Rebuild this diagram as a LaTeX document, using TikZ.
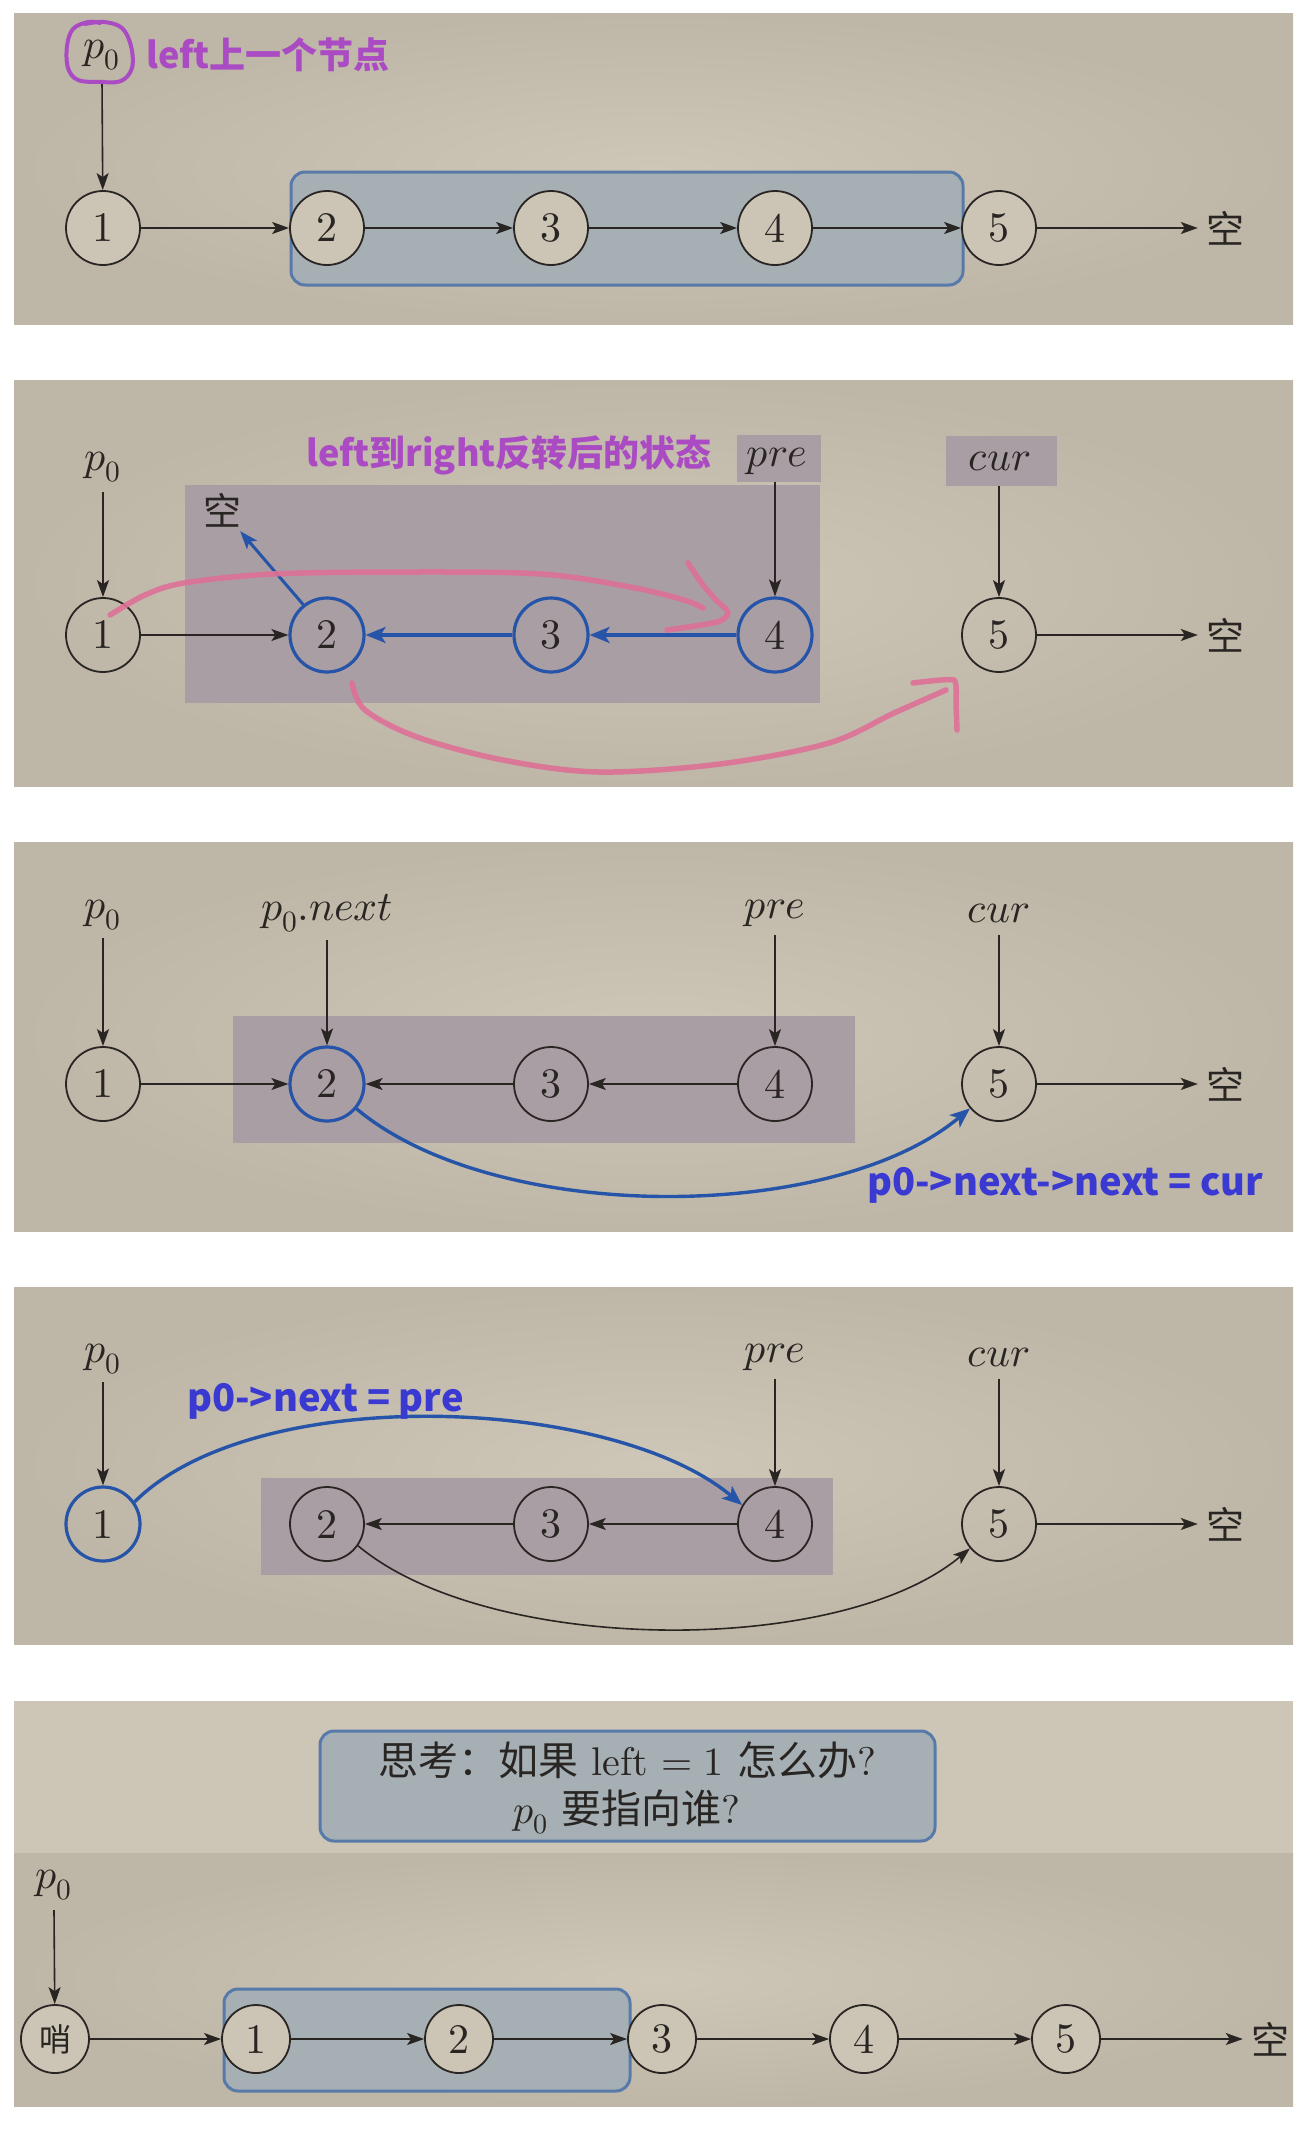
\documentclass[tikz,border=0pt]{standalone}
\usepackage{fontspec}
\usepackage{unicode-math}
\setmainfont{lmroman10-regular.otf}
\setmathfont{Latin Modern Math}
\newfontfamily\cjk{Noto Sans CJK SC}
\usetikzlibrary{arrows.meta}
\definecolor{bgA}{RGB}{206,199,183}
\definecolor{bgB}{RGB}{190,183,168}
\definecolor{bgTop}{RGB}{205,197,181}
\definecolor{ink}{RGB}{40,37,34}
\definecolor{nodefill}{RGB}{204,197,182}
\definecolor{boxfill}{RGB}{166,175,180}
\definecolor{boxedge}{RGB}{88,122,170}
\definecolor{shadeP}{RGB}{169,158,164}
\definecolor{blu}{RGB}{38,84,168}
\definecolor{txtblue}{RGB}{58,58,210}
\definecolor{purp}{RGB}{170,75,195}
\definecolor{pinkc}{RGB}{222,112,150}
\begin{document}
\begin{tikzpicture}[x=1pt,y=1pt,
  nd/.style={circle, draw=ink, line width=1.8pt, minimum size=74pt, inner sep=0pt, text=ink, font=\fontsize{42}{42}\selectfont},
  ndf/.style={nd, fill=nodefill},
  nds/.style={ndf, minimum size=68pt},
  ndb/.style={nd, draw=blu, line width=3.2pt},
  arr/.style={draw=ink, line width=1.6pt, -{Stealth[length=17pt,width=12pt,inset=4pt]}},
  barr/.style={draw=blu, line width=3.4pt, -{Stealth[length=20pt,width=16pt,inset=5pt]}},
  lbl/.style={inner sep=0pt, text=ink, font=\fontsize{42}{42}\selectfont},
  kong/.style={inner sep=8pt, text=ink, font=\cjk\fontsize{38}{38}\selectfont},
  purptxt/.style={inner sep=0pt, text=purp, font=\cjk\bfseries\fontsize{36}{36}\selectfont},
  bluetxt/.style={inner sep=0pt, text=txtblue, font=\cjk\bfseries\fontsize{38}{38}\selectfont},
  bluebox/.style={draw=boxedge, fill=boxfill, line width=3pt, rounded corners=14pt},
  hand/.style={draw=pinkc, line width=5.5pt, line cap=round, line join=round, opacity=0.9},
]
\useasboundingbox (0,0) rectangle (1313,-2130);
\fill[white] (0,0) rectangle (1313,-2130);

% ================= Panel 1 =================
\shade[inner color=bgA, outer color=bgB] (14,-14) rectangle (1293,-324);
\draw[bluebox] (291,-172) rectangle (963,-285);
\node[ndf] (a1) at (103,-228) {1};
\node[ndf] (a2) at (327,-228) {2};
\node[ndf] (a3) at (551,-228) {3};
\node[ndf] (a4) at (775,-228) {4};
\node[ndf] (a5) at (999,-228) {5};
\node[kong] (ak) at (1225,-228) {空};
\node[lbl] (ap) at (102,-55) {$p_0$};
\node[purptxt, anchor=west] (at) at (146,-55) {left上一个节点};
\draw[arr] ([yshift=-10pt]ap.south) -- (a1);
\draw[arr] (a1) -- (a2);
\draw[arr] (a2) -- (a3);
\draw[arr] (a3) -- (a4);
\draw[arr] (a4) -- (a5);
\draw[arr] (a5) -- (ak);
\draw[purp, line width=4pt, line cap=round, line join=round]
  plot[smooth, tension=0.6] coordinates {(85,-24) (104,-22) (122,-28) (131,-46) (132,-68) (121,-81) (100,-82) (78,-80) (68,-68) (67,-46) (73,-29) (88,-22) (100,-23)};

% ================= Panel 2 =================
\shade[inner color=bgA, outer color=bgB] (14,-380) rectangle (1293,-786);
\fill[shadeP] (185,-485) rectangle (820,-703);
\node[fill=shadeP, minimum width=84pt, minimum height=47pt, inner sep=0pt] (pbox) at (779,-458) {};
\node[fill=shadeP, minimum width=111pt, minimum height=50pt, inner sep=0pt] (cbox) at (1001,-461) {};
\node[lbl] (bpre) at (777,-461) {$pre$};
\node[lbl] (bcur) at (1000,-461) {$cur$};
\node[lbl] (bp) at (103,-467) {$p_0$};
\node[purptxt] (bt) at (509,-455) {left到right反转后的状态};
\node[nd] (b1) at (103,-635) {1};
\node[ndb] (b2) at (327,-635) {2};
\node[ndb] (b3) at (551,-635) {3};
\node[ndb] (b4) at (775,-635) {4};
\node[nd] (b5) at (999,-635) {5};
\node[kong] (bk) at (1225,-635) {空};
\node[kong, inner sep=4pt] (bkn) at (222,-510) {空};
\draw[arr] ([yshift=-10pt]bp.south) -- (b1);
\draw[arr] (pbox.south -| b4) -- (b4);
\draw[arr] (cbox.south -| b5) -- (b5);
\draw[arr] (b1) -- (b2);
\draw[barr] (b4) -- (b3);
\draw[barr] (b3) -- (b2);
\draw[draw=blu, line width=3pt, -{Stealth[length=18pt,width=13pt,inset=4pt]}] (b2.128) -- (bkn);
\draw[arr] (b5) -- (bk);
% pink hand-drawn strokes
\draw[hand] plot[smooth, tension=0.55] coordinates {(110,-615) (145,-595) (184,-583) (273,-574) (407,-572) (541,-574) (630,-587) (684,-600) (703,-608)};
\draw[hand] plot[smooth, tension=0.5] coordinates {(688,-563) (703,-585) (716,-600) (728,-612) (720,-621) (695,-626) (667,-630)};
\draw[hand] plot[smooth, tension=0.55] coordinates {(352,-683) (365,-710) (417,-737) (503,-760) (599,-772) (720,-764) (829,-743) (894,-713) (946,-690)};
\draw[hand] plot[smooth, tension=0.3] coordinates {(913,-683) (954,-680) (956,-705) (957,-730)};

% ================= Panel 3 =================
\shade[inner color=bgA, outer color=bgB] (14,-842) rectangle (1293,-1231);
\fill[shadeP] (233,-1016) rectangle (855,-1143);
\node[nd] (c1) at (103,-1084) {1};
\node[ndb] (c2) at (327,-1084) {2};
\node[nd] (c3) at (551,-1084) {3};
\node[nd] (c4) at (775,-1084) {4};
\node[nd] (c5) at (999,-1084) {5};
\node[kong] (ck) at (1225,-1084) {空};
\node[lbl] (cp) at (103,-915) {$p_0$};
\node[lbl] (cpn) at (327,-913) {$p_0.next$};
\node[lbl] (cpre) at (775,-913) {$pre$};
\node[lbl] (ccur) at (999,-913) {$cur$};
\draw[arr] ([yshift=-8pt]cp.south) -- (c1);
\draw[arr] ([yshift=-8pt]cpn.south -| c2) -- (c2);
\draw[arr] ([yshift=-8pt]cpre.south) -- (c4);
\draw[arr] ([yshift=-12pt]ccur.south) -- (c5);
\draw[arr] (c1) -- (c2);
\draw[arr] (c3) -- (c2);
\draw[arr] (c4) -- (c3);
\draw[arr] (c5) -- (ck);
\draw[barr] (c2.-40) .. controls +(-40:180) and +(-140:180) .. (c5.-140);
\node[bluetxt, anchor=west] (ctxt) at (867,-1185) {p0->next->next = cur};

% ================= Panel 4 =================
\shade[inner color=bgA, outer color=bgB] (14,-1287) rectangle (1293,-1644);
\fill[shadeP] (261,-1478) rectangle (833,-1575);
\node[ndb] (d1) at (103,-1524) {1};
\node[nd] (d2) at (327,-1524) {2};
\node[nd] (d3) at (551,-1524) {3};
\node[nd] (d4) at (775,-1524) {4};
\node[nd] (d5) at (999,-1524) {5};
\node[kong] (dk) at (1225,-1524) {空};
\node[lbl] (dp) at (103,-1359) {$p_0$};
\node[lbl] (dpre) at (775,-1357) {$pre$};
\node[lbl] (dcur) at (999,-1357) {$cur$};
\draw[arr] ([yshift=-8pt]dp.south) -- (d1);
\draw[arr] ([yshift=-8pt]dpre.south) -- (d4);
\draw[arr] ([yshift=-12pt]dcur.south) -- (d5);
\draw[arr] (d4) -- (d3);
\draw[arr] (d3) -- (d2);
\draw[arr] (d5) -- (dk);
\draw[arr] (d2.-35) .. controls +(-40:170) and +(-140:170) .. (d5.-140);
\draw[barr] (d1.35) .. controls +(45:170) and +(140:170) .. (d4.150);
\node[bluetxt, anchor=west] (dtxt) at (187,-1401) {p0->next = pre};

% ================= Panel 5 =================
\shade[inner color=bgA, outer color=bgB] (14,-1853) rectangle (1293,-2106);
\fill[bgTop] (14,-1701) rectangle (1293,-1853);
\draw[bluebox] (320,-1731) rectangle (935,-1841);
\node[inner sep=0pt, text=ink, align=center, font=\fontsize{40}{48}\selectfont] (etxt) at (627,-1788)
  {{\cjk 思考：如果} left $=1$ {\cjk 怎么办}?\\ $p_0$ {\cjk 要指向谁}?};
\draw[bluebox] (224,-1989) rectangle (630,-2091);
\node[nds, font=\cjk\fontsize{32}{32}\selectfont] (e0) at (55,-2039) {哨};
\node[nds] (e1) at (256,-2039) {1};
\node[nds] (e2) at (459,-2039) {2};
\node[nds] (e3) at (662,-2039) {3};
\node[nds] (e4) at (864,-2039) {4};
\node[nds] (e5) at (1066,-2039) {5};
\node[kong] (ek) at (1270,-2039) {空};
\node[lbl] (ep) at (54,-1885) {$p_0$};
\draw[arr] ([yshift=-10pt]ep.south) -- (e0);
\draw[arr] (e0) -- (e1);
\draw[arr] (e1) -- (e2);
\draw[arr] (e2) -- (e3);
\draw[arr] (e3) -- (e4);
\draw[arr] (e4) -- (e5);
\draw[arr] (e5) -- (ek);
\end{tikzpicture}
\end{document}
